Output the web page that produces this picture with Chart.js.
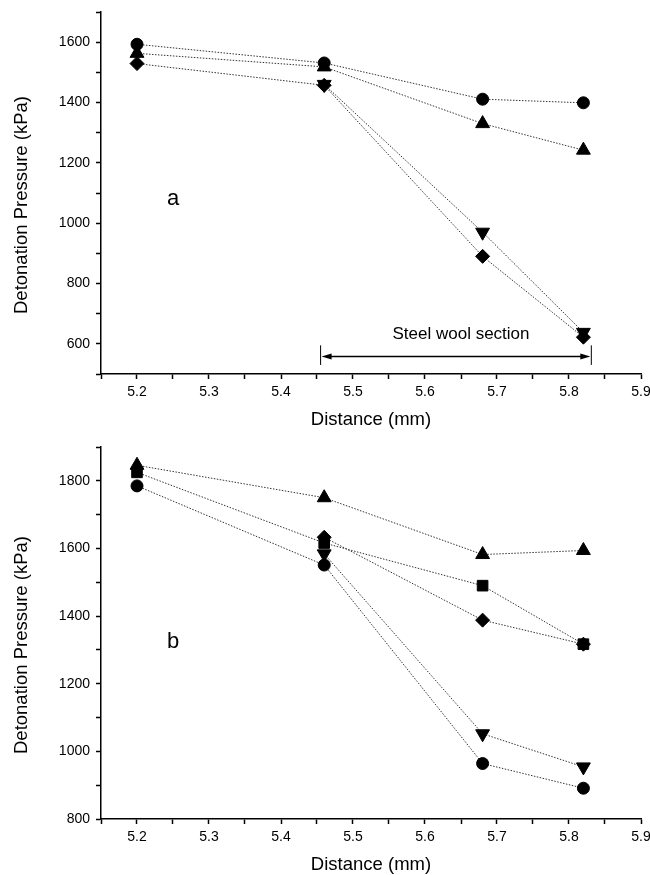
<!DOCTYPE html>
<html>
<head>
<meta charset="utf-8">
<script src="https://cdn.jsdelivr.net/npm/chart.js@4.4.1/dist/chart.umd.min.js"></script>
<style>
  html, body { margin: 0; padding: 0; background: #fff; }
  .panel { position: absolute; left: 0; width: 650px; }
  #panelA { top: 0; height: 430px; }
  #panelB { top: 430px; height: 445px; }
</style>
</head>
<body>
<div class="panel" id="panelA"><canvas id="chartA" width="650" height="430"></canvas></div>
<div class="panel" id="panelB"><canvas id="chartB" width="650" height="445"></canvas></div>
<script>
// distances where pressure was measured (mm)
const distance = [5.2, 5.46, 5.68, 5.82];

// panel a
const aCircle   = [1593, 1531, 1411, 1399];
const aTriangle = [1563, 1518, 1330, 1242];
const aDiamond  = [1529, 1457, 890, 622];
const aDown     = [null, 1460, 970, 638];

// panel b
const bTriangle = [1846, 1750, 1582, 1594];
const bSquare   = [1825, 1616, 1490, 1317];
const bDiamond  = [null, 1633, 1388, 1317];
const bDown     = [null, 1584, 1052, 954];
const bCircle   = [1785, 1551, 964, 891];

// axis ticks
const xTicks  = [5.15, 5.2, 5.25, 5.3, 5.35, 5.4, 5.45, 5.5, 5.55, 5.6, 5.65, 5.7, 5.75, 5.8, 5.85, 5.9];
const aYTicks = [500, 600, 700, 800, 900, 1000, 1100, 1200, 1300, 1400, 1500, 1600, 1700];
const bYTicks = [800, 900, 1000, 1100, 1200, 1300, 1400, 1500, 1600, 1700, 1800, 1900];

// steel wool section marker (panel a)
const steelStart = 5.455;
const steelEnd = 5.831;
const steelArrowLevel = 558;
const steelBarTop = 595;
const steelBarBottom = 530;
const steelText = 'Steel wool section';
const steelTextPos = [5.65, 632];

const X_TITLE = 'Distance (mm)';
const Y_TITLE = 'Detonation Pressure (kPa)';
const FONT = '"Liberation Sans", Arial, Helvetica, sans-serif';

Chart.defaults.font.family = FONT;
Chart.defaults.color = '#000';

function toPoints(values) {
  return distance.map((x, i) => ({ x, y: values[i] }));
}

function series(values, style, radius, rotation) {
  return {
    data: toPoints(values),
    pointStyle: style,
    pointRadius: radius,
    pointHoverRadius: radius,
    pointRotation: rotation || 0,
    pointBackgroundColor: '#000',
    pointBorderColor: '#000',
    pointBorderWidth: 1,
    borderColor: '#333',
    borderWidth: 1,
    borderDash: [1.5, 1.5],
    spanGaps: false,
    fill: false,
    tension: 0,
  };
}

// axis titles drawn by hand so the rotated one sits where the original does
const axisTitles = {
  id: 'axisTitles',
  afterDraw(chart) {
    const { ctx, chartArea } = chart;
    ctx.save();
    ctx.fillStyle = '#000';
    ctx.font = '18.5px ' + FONT;
    ctx.textAlign = 'center';
    ctx.textBaseline = 'middle';
    ctx.fillText(X_TITLE, (chartArea.left + chartArea.right) / 2, chartArea.bottom + 46);
    ctx.translate(22, (chartArea.top + chartArea.bottom) / 2 + 12);
    ctx.rotate(-Math.PI / 2);
    ctx.fillText(Y_TITLE, 0, 0);
    ctx.restore();
  }
};

// the "a" / "b" panel letter
const panelLabel = {
  id: 'panelLabel',
  afterDraw(chart, args, opts) {
    if (!opts.text) return;
    const { ctx, scales } = chart;
    ctx.save();
    ctx.fillStyle = '#000';
    ctx.font = '22px ' + FONT;
    ctx.textAlign = 'center';
    ctx.textBaseline = 'middle';
    ctx.fillText(opts.text, scales.x.getPixelForValue(opts.x), scales.y.getPixelForValue(opts.y));
    ctx.restore();
  }
};

// double-headed arrow with end bars for the steel wool section
const steelWool = {
  id: 'steelWool',
  afterDatasetsDraw(chart, args, opts) {
    if (!opts.show) return;
    const { ctx, scales } = chart;
    const x0 = scales.x.getPixelForValue(steelStart);
    const x1 = scales.x.getPixelForValue(steelEnd);
    const ya = scales.y.getPixelForValue(steelArrowLevel);
    const yt = scales.y.getPixelForValue(steelBarTop);
    const yb = scales.y.getPixelForValue(steelBarBottom);
    ctx.save();
    ctx.strokeStyle = '#000';
    ctx.fillStyle = '#000';
    ctx.lineWidth = 1;
    ctx.beginPath();
    ctx.moveTo(x0, yt); ctx.lineTo(x0, yb);
    ctx.moveTo(x1, yt); ctx.lineTo(x1, yb);
    ctx.stroke();
    ctx.lineWidth = 1.5;
    ctx.beginPath();
    ctx.moveTo(x0 + 8, ya); ctx.lineTo(x1 - 8, ya);
    ctx.stroke();
    ctx.beginPath();
    ctx.moveTo(x0 + 1, ya); ctx.lineTo(x0 + 11, ya - 3); ctx.lineTo(x0 + 11, ya + 3); ctx.closePath();
    ctx.moveTo(x1 - 1, ya); ctx.lineTo(x1 - 11, ya - 3); ctx.lineTo(x1 - 11, ya + 3); ctx.closePath();
    ctx.fill();
    ctx.font = '17px ' + FONT;
    ctx.textAlign = 'center';
    ctx.textBaseline = 'middle';
    ctx.fillText(steelText, scales.x.getPixelForValue(steelTextPos[0]), scales.y.getPixelForValue(steelTextPos[1]));
    ctx.restore();
  }
};

function makeChart(canvasId, datasets, yMin, yMax, yTicks, padTop, label, showSteel) {
  const canvas = document.getElementById(canvasId);
  return new Chart(canvas, {
    type: 'line',
    data: { datasets },
    plugins: [axisTitles, panelLabel, steelWool],
    options: {
      responsive: false,
      animation: false,
      events: [],
      layout: { padding: { left: 0, right: 9, top: padTop, bottom: 0 } },
      plugins: {
        legend: { display: false },
        tooltip: { enabled: false },
        panelLabel: label,
        steelWool: { show: showSteel },
      },
      scales: {
        x: {
          type: 'linear',
          min: 5.15,
          max: 5.9,
          afterBuildTicks: (scale) => { scale.ticks = xTicks.map(v => ({ value: v })); },
          afterFit: (scale) => {
            scale.height = 56;
            scale.paddingLeft = 0;
            scale.paddingRight = 0;
          },
          border: { display: true, color: '#000', width: 1.5 },
          grid: { display: true, drawOnChartArea: false, drawTicks: true, tickLength: 5, tickWidth: 1.5, tickColor: '#000' },
          ticks: {
            autoSkip: false,
            maxRotation: 0,
            padding: 5,
            color: '#000',
            font: { size: 14 },
            callback: (value) => {
              const v = Math.round(value * 100);
              return v % 10 === 0 ? (v / 100).toFixed(1) : '';
            },
          },
        },
        y: {
          type: 'linear',
          min: yMin,
          max: yMax,
          afterBuildTicks: (scale) => { scale.ticks = yTicks.map(v => ({ value: v })); },
          afterFit: (scale) => {
            scale.width = 101;
            scale.paddingTop = 0;
            scale.paddingBottom = 0;
          },
          border: { display: true, color: '#000', width: 1.5 },
          grid: { display: true, drawOnChartArea: false, drawTicks: true, tickLength: 5, tickWidth: 1.5, tickColor: '#000' },
          ticks: {
            autoSkip: false,
            padding: 6,
            color: '#000',
            font: { size: 14 },
            callback: (value) => (value % 200 === 0 ? String(value) : ''),
          },
        },
      },
    },
  });
}

makeChart('chartA', [
  series(aCircle, 'circle', 6),
  series(aTriangle, 'triangle', 8),
  series(aDiamond, 'rectRot', 7),
  series(aDown, 'triangle', 8, 180),
], 500, 1700, aYTicks, 12, { text: 'a', x: 5.25, y: 1080 }, true);

makeChart('chartB', [
  series(bTriangle, 'triangle', 8),
  series(bSquare, 'rect', 7.5),
  series(bDiamond, 'rectRot', 7),
  series(bDown, 'triangle', 8, 180),
  series(bCircle, 'circle', 6),
], 800, 1900, bYTicks, 17, { text: 'b', x: 5.25, y: 1325 }, false);
</script>
</body>
</html>
